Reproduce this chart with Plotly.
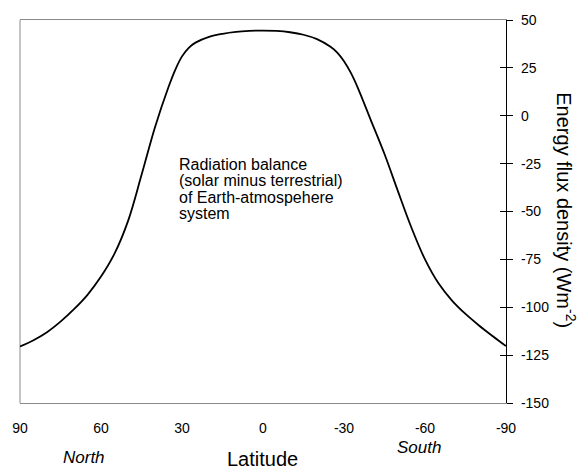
import plotly.graph_objects as go

# Latitude (degrees, North positive) and net radiation balance (W m^-2)
lat = [90, 85, 80, 75, 70, 65, 60, 55, 50, 45, 40, 35, 32.5, 30, 27.5, 25, 20, 15, 10, 5, 0,
       -5, -10, -15, -20, -25, -27.5, -30, -32.5, -35, -40, -45, -50, -55, -60, -65, -70, -75, -80, -85, -90]
flux = [-120.5, -117.2, -113, -107.5, -101, -93.5, -84, -72, -55, -31, -6, 15, 24, 31, 35.5, 38.2, 41.2, 42.8, 43.8, 44.3, 44.5,
        44.3, 43.6, 42.3, 40.0, 36.0, 33.0, 28.5, 22.5, 15, -2.5, -20, -39.5, -58.5, -75, -87.5, -96.5, -103.5, -109.5, -115, -120.3]

x_ticks = [90, 60, 30, 0, -30, -60, -90]
x_ticktext = ["90", "60", "30", "0", "-30", "-60", "-90"]
y_ticks = [50, 25, 0, -25, -50, -75, -100, -125, -150]
y_ticktext = ["50", "25", "0", "-25", "-50", "-75", "-100", "-125", "-150"]

annot_lines = ["Radiation balance", "(solar minus terrestrial)", "of Earth-atmospehere", "system"]

FONT = "Liberation Sans, Arial, sans-serif"
GREY = "#8a8a8a"

fig = go.Figure()
fig.add_trace(go.Scatter(x=lat, y=flux, mode="lines",
                         line=dict(color="black", width=1.8, shape="spline", smoothing=1.0),
                         showlegend=False, hoverinfo="skip"))
# transparent copy so the overlay axis (inside ticks) gets drawn
fig.add_trace(go.Scatter(x=lat, y=flux, mode="lines", yaxis="y2",
                         line=dict(color="rgba(0,0,0,0)", width=0),
                         showlegend=False, hoverinfo="skip"))

fig.update_layout(
    width=579, height=469,
    margin=dict(l=18, r=73, t=14, b=66),
    paper_bgcolor="white", plot_bgcolor="white",
    font=dict(family=FONT, color="black", size=14),
    xaxis=dict(range=[90, -90], tickvals=x_ticks, ticktext=x_ticktext,
               showgrid=False, zeroline=False, ticks="",
               showline=True, linecolor=GREY, linewidth=1, mirror=True,
               ticklabelstandoff=12, tickfont=dict(size=14, family=FONT, color="black")),
    yaxis=dict(range=[-150, 50], side="right", tickvals=y_ticks, ticktext=y_ticktext,
               showgrid=False, zeroline=False, ticks="outside", ticklen=6,
               tickcolor="black", tickwidth=1,
               showline=True, linecolor="black", linewidth=1.2,
               ticklabelstandoff=5, tickfont=dict(size=14, family=FONT, color="black")),
    yaxis2=dict(range=[-150, 50], side="right", overlaying="y", tickvals=y_ticks,
                showgrid=False, zeroline=False, ticks="inside", ticklen=6,
                tickcolor="black", tickwidth=1, showticklabels=False, showline=False),
    shapes=[dict(type="line", xref="paper", yref="paper", x0=0, x1=0, y0=0, y1=1,
                 line=dict(color=GREY, width=1), layer="below")],
)

annots = []
line_y = [161, 177.5, 194, 210.5]
for txt, yy in zip(annot_lines, line_y):
    annots.append(dict(text=txt, xref="paper", yref="paper",
                       x=(176 - 18) / 488, y=1 - (yy - 14) / 389,
                       xanchor="left", yanchor="middle", showarrow=False,
                       font=dict(size=16, family=FONT, color="black")))
# bottom labels
annots.append(dict(text="<i>North</i>", xref="paper", yref="paper",
                   x=(82 - 18) / 488, y=1 - (458 - 14) / 389, xanchor="center", yanchor="middle",
                   showarrow=False, font=dict(size=17, family=FONT, color="black")))
annots.append(dict(text="<i>South</i>", xref="paper", yref="paper",
                   x=(419 - 18) / 488, y=1 - (448 - 14) / 389, xanchor="center", yanchor="middle",
                   showarrow=False, font=dict(size=17, family=FONT, color="black")))
annots.append(dict(text="Latitude", xref="paper", yref="paper",
                   x=(261 - 18) / 488, y=1 - (460 - 14) / 389, xanchor="center", yanchor="middle",
                   showarrow=False, font=dict(size=20, family=FONT, color="black")))
# right axis title, reading top to bottom
annots.append(dict(text="Energy flux density (Wm<sup>-2</sup>)", xref="paper", yref="paper",
                   x=(567 - 18) / 488, y=1 - (207 - 14) / 389, xanchor="center", yanchor="middle",
                   textangle=90, showarrow=False, font=dict(size=20, family=FONT, color="black")))
fig.update_layout(annotations=annots)

fig.write_html("out.html")
